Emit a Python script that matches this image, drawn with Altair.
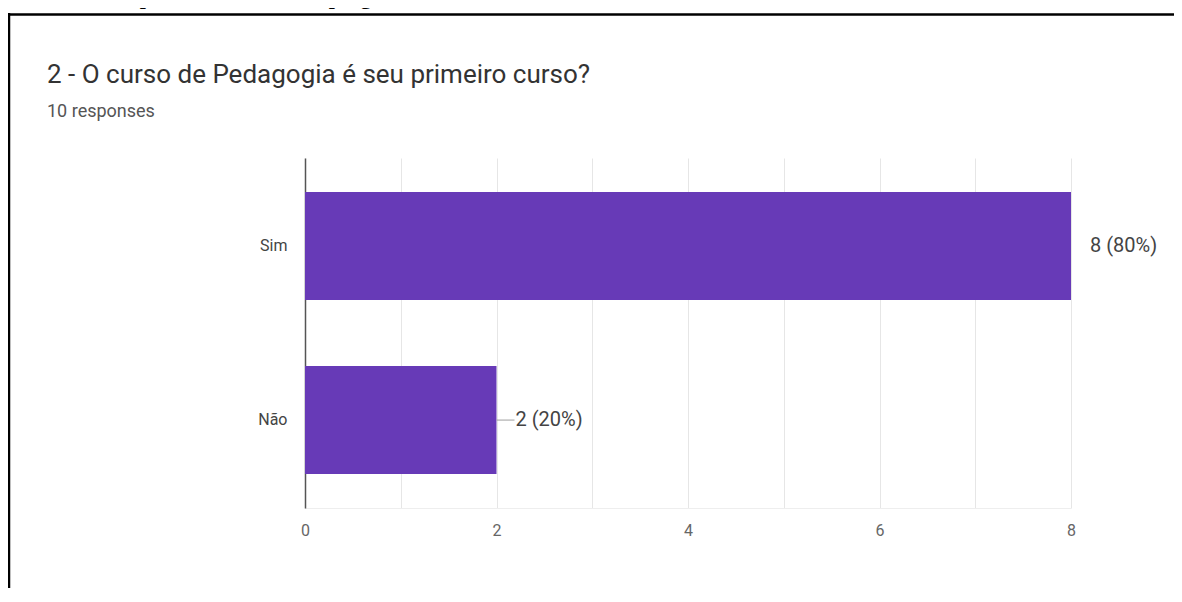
import altair as alt
import pandas as pd

# ---- data ----
answers = ["Sim", "Não"]
counts = [8, 2]
total_responses = 10
x_ticks = [0, 1, 2, 3, 4, 5, 6, 7, 8]

caption = "Gráfico 2 – Respostas concedidas à pergunta 2"
question = "2 - O curso de Pedagogia é seu primeiro curso?"
subtitle = f"{total_responses} responses"

labels = [f"{c} ({round(100 * c / total_responses)}%)" for c in counts]
df = pd.DataFrame({"answer": answers, "count": counts, "label": labels})

PURPLE = "#673ab7"
FONT = "Roboto"

PAD_L, PAD_T = 297, 150
W, H = 766, 350
TOTAL_W, TOTAL_H = 1166, 580

y_enc = alt.Y(
    "answer:N", sort=answers, title=None,
    scale=alt.Scale(paddingInner=0.38, paddingOuter=0.195),
    axis=alt.Axis(domainColor="#555555", domainWidth=1.5, ticks=False,
                  labelPadding=18, labelFontSize=16, labelColor="#444444",
                  labelFont=FONT, grid=False),
)
x_enc = alt.X(
    "count:Q", title=None, scale=alt.Scale(domain=[0, 8], nice=False),
    axis=alt.Axis(values=x_ticks,
                  labelExpr="datum.value % 2 == 0 ? format(datum.value, 'd') : ''",
                  ticks=False, domainColor="#eeeeee", gridColor="#e6e6e6",
                  labelPadding=14, labelFontSize=16, labelColor="#666666",
                  labelFont=FONT, labelFlush=False),
)

base = alt.Chart(df)

bars = base.mark_bar(color=PURPLE).encode(x=x_enc, y=y_enc)

stems = base.transform_filter(alt.datum.answer == "Não").mark_rule(
    color="#9e9e9e", strokeWidth=1, x2Offset=18
).encode(x="count:Q", x2="count:Q", y=alt.Y("answer:N", sort=answers))

texts = base.mark_text(
    align="left", baseline="middle", dx=19, fontSize=20,
    color="#444444", font=FONT
).encode(x="count:Q", y=alt.Y("answer:N", sort=answers), text="label:N")

one = alt.Data(values=[{}])

frame_left = alt.Chart(one).mark_rule(color="black", strokeWidth=2.5).encode(
    x=alt.value(-296), y=alt.value(-145), y2=alt.value(TOTAL_H - PAD_T)
)
frame_top = alt.Chart(one).mark_rule(color="black", strokeWidth=2.5).encode(
    x=alt.value(-297), x2=alt.value(TOTAL_W - PAD_L), y=alt.value(-143.5)
)

caption_text = alt.Chart(one).mark_text(
    text=caption, font="Liberation Serif", fontSize=22, fontWeight="bold",
    align="left", baseline="alphabetic", color="black"
).encode(x=alt.value(-310), y=alt.value(-154))

title_text = alt.Chart(one).mark_text(
    text=question, font=FONT, fontSize=26, align="left",
    baseline="alphabetic", color="#333333"
).encode(x=alt.value(-258), y=alt.value(-75))

subtitle_text = alt.Chart(one).mark_text(
    text=subtitle, font=FONT, fontSize=18, align="left",
    baseline="alphabetic", color="#555555"
).encode(x=alt.value(-258), y=alt.value(-41))

chart = alt.layer(
    bars, stems, texts, frame_left, frame_top, caption_text, title_text, subtitle_text
).properties(
    width=W, height=H,
    autosize=alt.AutoSizeParams(type="none"),
    padding={"left": PAD_L, "top": PAD_T,
             "right": TOTAL_W - PAD_L - W, "bottom": TOTAL_H - PAD_T - H},
    background="white",
).configure_view(stroke=None)

chart.save("out.html", embed_options={"renderer": "svg", "actions": False})
